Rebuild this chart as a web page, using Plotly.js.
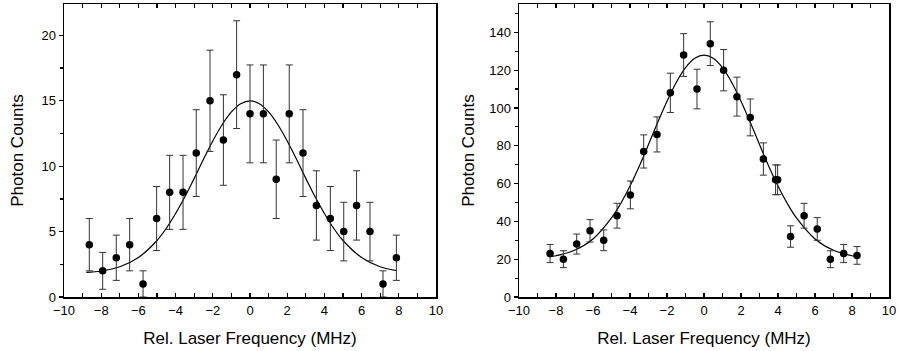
<!DOCTYPE html>
<html>
<head>
<meta charset="utf-8">
<script src="https://cdn.plot.ly/plotly-3.0.1.min.js"></script>
<style>
  html, body { margin: 0; padding: 0; background: #fff; }
  #chart { width: 900px; height: 351px; }
</style>
</head>
<body>
<div id="chart"></div>
<script>
// ---- Left panel data ----
const leftFreq = [-8.64,-7.92,-7.19,-6.47,-5.75,-5.02,-4.32,-3.60,-2.89,-2.15,-1.43,-0.72,0.00,0.72,1.41,2.11,2.85,3.57,4.32,5.04,5.73,6.45,7.15,7.87];
const leftCounts = [4,2,3,4,1,6,8,8,11,15,12,17,14,14,9,14,11,7,6,5,7,5,1,3];
const leftErr = [2.0,1.41,1.73,2.0,1.0,2.45,2.83,2.83,3.32,3.87,3.46,4.12,3.74,3.74,3.0,3.74,3.32,2.65,2.45,2.24,2.65,2.24,1.0,1.73];
const leftFitFreq = [-8.8,-8,-7,-6,-5,-4.5,-4,-3.5,-3,-2.5,-2,-1.5,-1,-0.5,0,0.5,1,1.5,2,2.5,3,3.5,4,4.5,5,6,7,7.9];
const leftFitCounts = [1.88,1.99,2.31,3.02,4.32,5.25,6.38,7.66,9.07,10.53,11.93,13.17,14.15,14.78,15.0,14.78,14.15,13.17,11.93,10.53,9.07,7.66,6.38,5.25,4.32,3.02,2.31,2.01];

// ---- Right panel data ----
const rightFreq = [-8.32,-7.60,-6.88,-6.16,-5.42,-4.70,-3.98,-3.26,-2.54,-1.82,-1.10,-0.38,0.34,1.06,1.78,2.50,3.21,3.87,3.98,4.68,5.41,6.12,6.83,7.55,8.27];
const rightCounts = [23,20,28,35,30,43,54,77,86,108,128,110,134,120,106,95,73,62,62,32,43,36,20,23,22];
const rightErr = [4.8,4.47,5.29,5.92,5.48,6.56,7.35,8.77,9.27,10.39,11.31,10.49,11.58,10.95,10.3,9.75,8.54,7.87,7.87,5.66,6.56,6.0,4.47,4.8,4.69];
const rightFitFreq = [-8.32,-8,-7,-6,-5,-4.5,-4,-3.5,-3,-2.5,-2,-1.5,-1,-0.5,0,0.5,1,1.5,2,2.5,3,3.5,4,4.5,5,6,7,8,8.27];
const rightFitCounts = [21.3,21.8,24.7,30.7,41.8,49.5,58.7,69.2,80.7,92.4,103.6,113.5,121.3,126.3,128.0,126.3,121.3,113.5,103.6,92.4,80.7,69.2,58.7,49.5,41.8,30.7,24.7,21.8,21.35];

// ---- Axis labels ----
const xTitle = 'Rel. Laser Frequency (MHz)';
const yTitle = 'Photon Counts';

const FONT = 'Liberation Sans, Arial, Helvetica, sans-serif';

function pointsTrace(x, y, err, xa, ya) {
  return {
    type: 'scatter', mode: 'markers', x: x, y: y, xaxis: xa, yaxis: ya,
    marker: { color: '#000', size: 7.5 },
    error_y: { type: 'data', array: err, visible: true, color: '#333', thickness: 1, width: 3.5 },
    showlegend: false, hoverinfo: 'x+y'
  };
}
function fitTrace(x, y, xa, ya) {
  return {
    type: 'scatter', mode: 'lines', x: x, y: y, xaxis: xa, yaxis: ya,
    line: { color: '#000', width: 1.2, shape: 'spline', smoothing: 1 },
    showlegend: false, hoverinfo: 'skip'
  };
}

const data = [
  fitTrace(leftFitFreq, leftFitCounts, 'x', 'y'),
  pointsTrace(leftFreq, leftCounts, leftErr, 'x', 'y'),
  fitTrace(rightFitFreq, rightFitCounts, 'x2', 'y2'),
  pointsTrace(rightFreq, rightCounts, rightErr, 'x2', 'y2')
];

function xAxis(domain, anchor) {
  return {
    domain: domain, anchor: anchor, range: [-10, 10], dtick: 2, tick0: 0,
    ticks: 'inside', ticklen: 4, tickwidth: 1.2, tickcolor: '#000',
    minor: { dtick: 1, ticks: 'inside', ticklen: 4, tickwidth: 1.2, tickcolor: '#000' },
    showline: true, linecolor: '#000', linewidth: 1.5, mirror: 'ticks',
    showgrid: false, zeroline: false, fixedrange: true,
    tickfont: { family: FONT, size: 13, color: '#000' },
    ticklabelstandoff: 1,
    title: { text: xTitle, font: { family: FONT, size: 17, color: '#000' }, standoff: 15 }
  };
}
function yAxis(anchor, range, dtick, minor, standoff) {
  return {
    anchor: anchor, domain: [0, 1], range: range, dtick: dtick, tick0: 0,
    ticks: 'outside', ticklen: 4, tickwidth: 1.2, tickcolor: '#000',
    minor: { dtick: minor, ticks: 'outside', ticklen: 2.5, tickwidth: 1.2, tickcolor: '#000' },
    showline: true, linecolor: '#000', linewidth: 1.5, mirror: true,
    showgrid: false, zeroline: false, fixedrange: true,
    tickfont: { family: FONT, size: 13, color: '#000' },
    title: { text: yTitle, font: { family: FONT, size: 17, color: '#000' }, standoff: standoff }
  };
}
function rightTicks(over, anchor, range, dtick) {
  return {
    overlaying: over, anchor: anchor, side: 'right', range: range, dtick: dtick, tick0: 0,
    ticks: 'inside', ticklen: 4, tickwidth: 1.2, tickcolor: '#000',
    showticklabels: false, showline: false, showgrid: false, zeroline: false, fixedrange: true
  };
}

const layout = {
  width: 900, height: 351, autosize: false,
  margin: { l: 0, r: 0, t: 4, b: 54 },
  paper_bgcolor: '#fff', plot_bgcolor: '#fff',
  font: { family: FONT, color: '#000' },
  showlegend: false,
  xaxis: xAxis([64/900, 436/900], 'y'),
  yaxis: yAxis('x', [0, 22.4], 5, 2.5, 13),
  xaxis2: xAxis([519/900, 889/900], 'y2'),
  yaxis2: yAxis('x2', [0, 155], 20, 10, 10),
  yaxis3: rightTicks('y', 'x', [0, 22.4], 2.5),
  yaxis4: rightTicks('y2', 'x2', [0, 155], 10)
};

Plotly.newPlot('chart', data, layout, { displayModeBar: false, staticPlot: true });
</script>
</body>
</html>
